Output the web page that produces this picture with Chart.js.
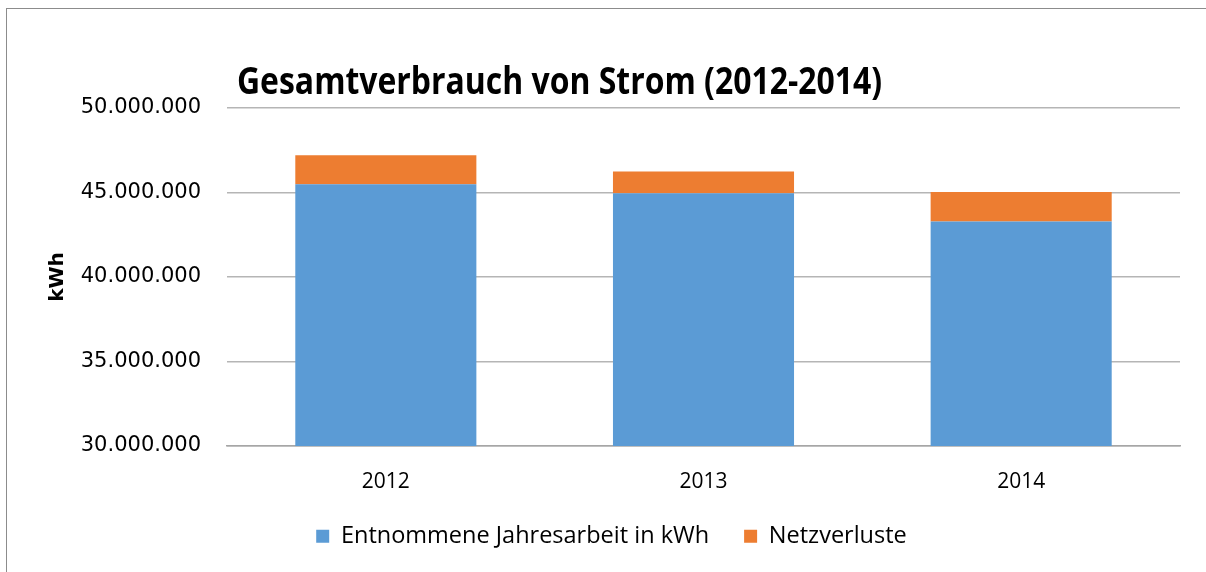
<!DOCTYPE html>
<html>
<head>
<meta charset="utf-8">
<script src="https://cdn.jsdelivr.net/npm/chart.js@4/dist/chart.umd.min.js"></script>
<style>
  html, body { margin: 0; padding: 0; background: #fff; }
  #frame {
    position: absolute; left: 6px; top: 8px; width: 1200px; height: 600px;
    border-left: 1.5px solid #8c8c8c; border-top: 1.5px solid #8c8c8c;
  }
  #myChart { position: absolute; left: 0; top: 0; }
</style>
</head>
<body>
<div id="frame"></div>
<canvas id="myChart" width="1206" height="572"></canvas>
<script>
const years = ["2012", "2013", "2014"];
const entnommen = [45490000, 44960000, 43280000];
const netzverluste = [1710000, 1290000, 1750000];
const yTicks = [30000000, 35000000, 40000000, 45000000, 50000000];
const titleText = "Gesamtverbrauch von Strom (2012-2014)";

const ctx = document.getElementById("myChart").getContext("2d");

const formatDe = (v) => String(v).replace(/\B(?=(\d{3})+(?!\d))/g, ".");

// title is left of the chart centre, so draw it by hand
const titlePlugin = {
  id: "leftTitle",
  afterDraw(chart) {
    const c = chart.ctx;
    c.save();
    c.font = 'bold 37px "Open Sans"';
    c.fillStyle = "#000";
    c.textBaseline = "alphabetic";
    const w = c.measureText(titleText).width;
    const sx = 645 / w;
    c.translate(237, 94);
    c.scale(sx, 1);
    c.fillText(titleText, 0, 0);
    c.restore();
  },
};

const myChart = new Chart(ctx, {
  type: "bar",
  data: {
    labels: years,
    datasets: [
      {
        label: "Entnommene Jahresarbeit in kWh",
        data: entnommen,
        backgroundColor: "#5b9bd5",
      },
      {
        label: "Netzverluste",
        data: netzverluste,
        backgroundColor: "#ed7d31",
      },
    ],
  },
  options: {
    responsive: false,
    animation: false,
    layout: { padding: { top: 108, right: 26, bottom: 14, left: 43 } },
    datasets: {
      bar: { barPercentage: 0.57, categoryPercentage: 1 },
    },
    plugins: {
      tooltip: { enabled: false },
      legend: {
        position: "bottom",
        labels: {
          color: "#000",
          font: { family: "Open Sans", size: 23.5 },
          boxWidth: 13,
          boxHeight: 13,
          padding: 35,
        },
      },
    },
    scales: {
      x: {
        stacked: true,
        grid: { display: false },
        border: { display: true, color: "#a6a6a6", width: 1.5 },
        ticks: {
          color: "#000",
          font: { family: "Open Sans", size: 21 },
          padding: 15,
        },
        afterFit: (scale) => { scale.height = 43.5; },
      },
      y: {
        stacked: true,
        min: 30000000,
        max: 50000000,
        afterBuildTicks: (scale) => {
          scale.ticks = yTicks.map((v) => ({ value: v }));
        },
        grid: { color: "#b5b5b5", lineWidth: 1.5, drawTicks: false },
        border: { display: false },
        ticks: {
          color: "#000",
          font: { family: "DejaVu Sans", size: 21 },
          padding: 26,
          callback: (v) => formatDe(v),
        },
        title: {
          display: true,
          text: "kWh",
          color: "#000",
          font: { family: "DejaVu Sans", size: 20, weight: "bold" },
          padding: { top: 3, bottom: 0 },
        },
        afterFit: (scale) => { scale.width = 184; },
      },
    },
  },
  plugins: [titlePlugin],
});
</script>
</body>
</html>
